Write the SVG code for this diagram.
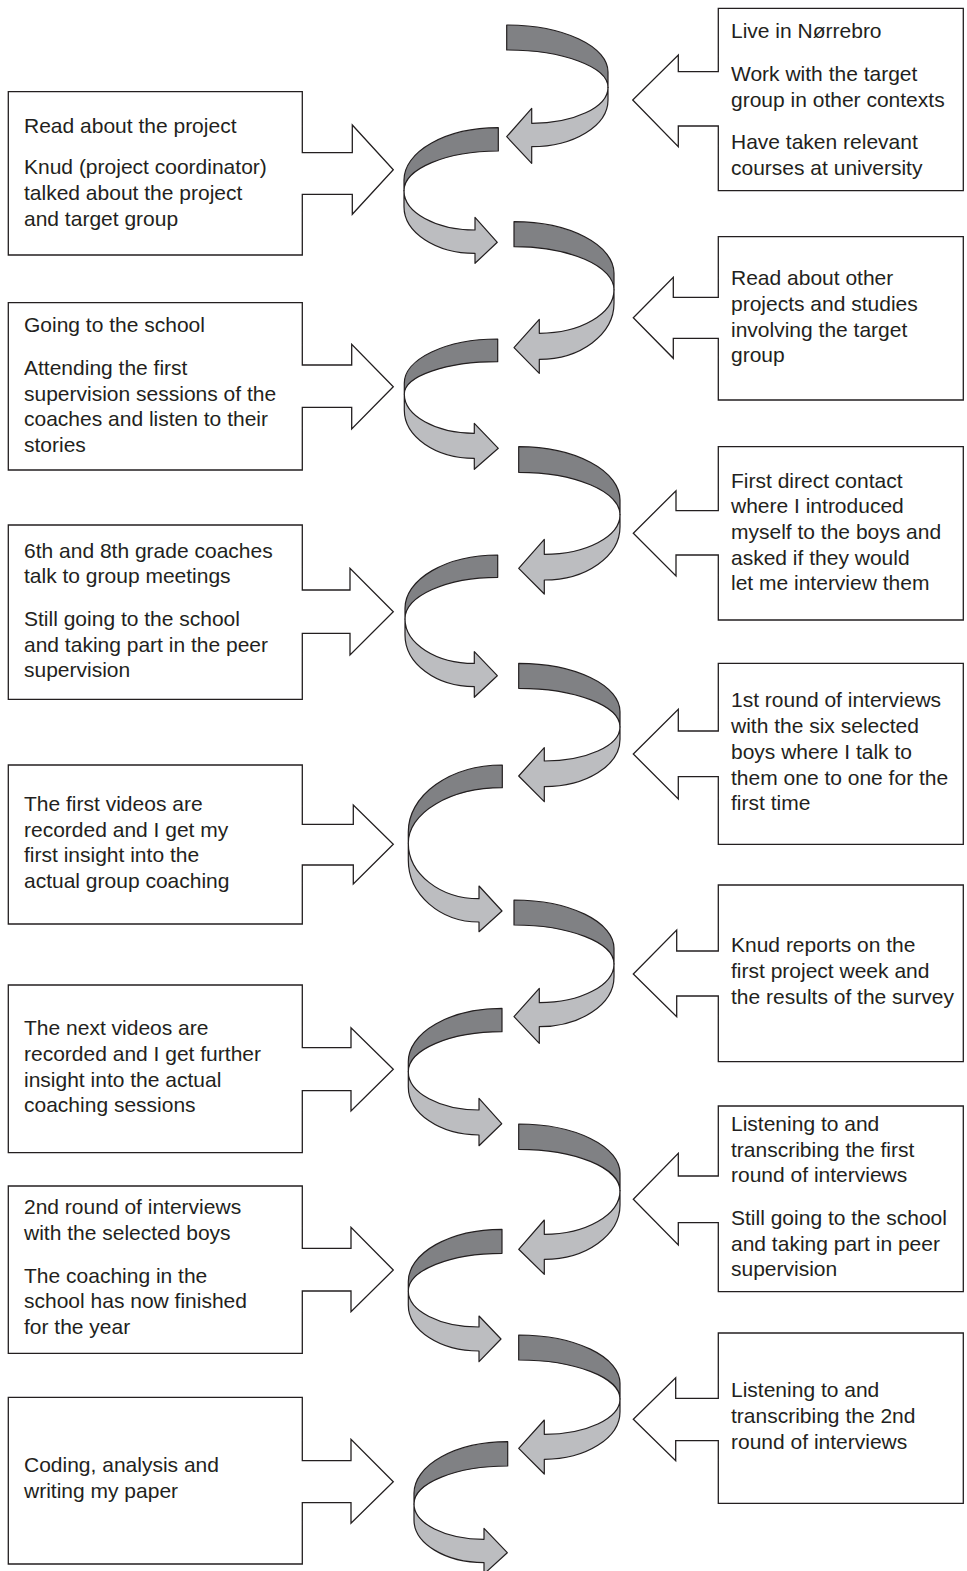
<svg xmlns="http://www.w3.org/2000/svg" width="967" height="1571" viewBox="0 0 967 1571">
<style>
.box{fill:#fff;stroke:#231f20;stroke-width:1.3;stroke-linejoin:miter}
.dk{fill:#808184;stroke:#231f20;stroke-width:1.2;stroke-linejoin:round}
.lt{fill:#bcbdc0;stroke:#231f20;stroke-width:1.2;stroke-linejoin:round}
text{font-family:"Liberation Sans",Arial,Helvetica,sans-serif;font-size:21px;fill:#231f20}
</style>
<rect width="967" height="1571" fill="#fff"/>
<g id="spiral">
<g id="r1"><path class="dk" d="M506.7,25 A101.3,47 0 0 1 608,72 L608,87.4 A101.3,37.4 0 0 0 506.7,50 Z"/><path class="lt" d="M608,87.4 A76.3,35.9 0 0 1 531.7,123.3 L531.7,108.3 L506.7,136.7 L531.7,163.3 L531.7,146.7 A76.3,46.7 0 0 0 608,100 Z"/></g>
<g id="l1"><path class="dk" d="M498.3,127.7 A94.3,52.3 0 0 0 404,180 L404,190.7 A94.3,39.7 0 0 1 498.3,151 Z"/><path class="lt" d="M404,190.7 A71,39.3 0 0 0 475,230 L475,217.3 L497.3,242.3 L475,263.3 L475,253.3 A71,46.6 0 0 1 404,206.7 Z"/></g>
<g id="r2"><path class="dk" d="M514,221.7 A100,51.6 0 0 1 614,273.3 L614,289.8 A100,43.1 0 0 0 514,246.7 Z"/><path class="lt" d="M614,289.8 A74.7,43.5 0 0 1 539.3,333.3 L539.3,319.3 L514,347.7 L539.3,373.3 L539.3,359.3 A74.7,56 0 0 0 614,303.3 Z"/></g>
<g id="l2"><path class="dk" d="M497.7,339 A93.4,44.3 0 0 0 404.3,383.3 L404.3,394 A93.4,32.3 0 0 1 497.7,361.7 Z"/><path class="lt" d="M404.3,394 A70,39.3 0 0 0 474.3,433.3 L474.3,423.3 L498.3,448.3 L474.3,469.3 L474.3,458.3 A70,48.3 0 0 1 404.3,410 Z"/></g>
<g id="r3"><path class="dk" d="M518.7,446.7 A101.3,53.3 0 0 1 620,500 L620,514.7 A101.3,42.4 0 0 0 518.7,472.3 Z"/><path class="lt" d="M620,514.7 A75.7,39.6 0 0 1 544.3,554.3 L544.3,539.3 L518.7,568.3 L544.3,594 L544.3,580 A75.7,53.3 0 0 0 620,526.7 Z"/></g>
<g id="l3"><path class="dk" d="M497.7,555 A92.7,53.3 0 0 0 405,608.3 L405,619 A92.7,41.7 0 0 1 497.7,577.3 Z"/><path class="lt" d="M405,619 A69.3,44.4 0 0 0 474.3,663.4 L474.3,651.7 L497.3,675.7 L474.3,697.3 L474.3,686.7 A69.3,51.7 0 0 1 405,635 Z"/></g>
<g id="r4"><path class="dk" d="M518.7,663.3 A101.3,48.4 0 0 1 620,711.7 L620,726.9 A101.3,38.6 0 0 0 518.7,688.3 Z"/><path class="lt" d="M620,726.9 A75.7,34.1 0 0 1 544.3,761 L544.3,747.7 L518.7,776 L544.3,801.7 L544.3,786.7 A75.7,47.4 0 0 0 620,739.3 Z"/></g>
<g id="l4"><path class="dk" d="M502.3,765 A94,66.7 0 0 0 408.3,831.7 L408.3,843 A94,55.3 0 0 1 502.3,787.7 Z"/><path class="lt" d="M408.3,843 A70.7,55.7 0 0 0 479,898.7 L479,886 L502,911 L479,931.7 L479,922 A70.7,62 0 0 1 408.3,860 Z"/></g>
<g id="r5"><path class="dk" d="M514,900 A100,48.3 0 0 1 614,948.3 L614,963.9 A100,38.9 0 0 0 514,925 Z"/><path class="lt" d="M614,963.9 A74.7,38.8 0 0 1 539.3,1002.7 L539.3,988.3 L514,1016.7 L539.3,1043.3 L539.3,1026.7 A74.7,50 0 0 0 614,976.7 Z"/></g>
<g id="l5"><path class="dk" d="M502,1008.3 A93.7,53.4 0 0 0 408.3,1061.7 L408.3,1071.7 A93.7,40 0 0 1 502,1031.7 Z"/><path class="lt" d="M408.3,1071.7 A70.7,38.3 0 0 0 479,1110 L479,1098.3 L501.7,1123.7 L479,1145.7 L479,1135 A70.7,48.3 0 0 1 408.3,1086.7 Z"/></g>
<g id="r6"><path class="dk" d="M518.7,1124 A101.3,49.3 0 0 1 620,1173.3 L620,1190.7 A101.3,41.4 0 0 0 518.7,1149.3 Z"/><path class="lt" d="M620,1190.7 A75.7,43.6 0 0 1 544.3,1234.3 L544.3,1220 L518.7,1249.3 L544.3,1274.3 L544.3,1259.3 A75.7,54.3 0 0 0 620,1205 Z"/></g>
<g id="l6"><path class="dk" d="M502,1229.3 A93.7,52.4 0 0 0 408.3,1281.7 L408.3,1291 A93.7,37.7 0 0 1 502,1253.3 Z"/><path class="lt" d="M408.3,1291 A70.7,36 0 0 0 479,1327 L479,1316 L501,1339 L479,1361.7 L479,1351 A70.7,46 0 0 1 408.3,1305 Z"/></g>
<g id="r7"><path class="dk" d="M518.7,1335 A101.3,48.3 0 0 1 620,1383.3 L620,1398.9 A101.3,38.9 0 0 0 518.7,1360 Z"/><path class="lt" d="M620,1398.9 A75.7,35.4 0 0 1 544.3,1434.3 L544.3,1420 L518.7,1448.3 L544.3,1474 L544.3,1459.3 A75.7,47.6 0 0 0 620,1411.7 Z"/></g>
<g id="l7"><path class="dk" d="M507.7,1441.7 A93.7,51.6 0 0 0 414,1493.3 L414,1504 A93.7,38 0 0 1 507.7,1466 Z"/><path class="lt" d="M414,1504 A70,35.3 0 0 0 484,1539.3 L484,1528.3 L507.3,1552.7 L484,1574 L484,1562.6 A70,42.6 0 0 1 414,1520 Z"/></g>
</g>
<g id="lb1"><path class="box" d="M8.3,91.7 H302.3 V152.7 H352.3 V125 L393.3,169.7 L352.3,214.3 V194.3 H302.3 V255 H8.3 Z"/>
<text x="24"><tspan x="24" y="133.3">Read about the project</tspan><tspan x="24" y="174.3">Knud (project coordinator)</tspan><tspan x="24" y="200">talked about the project</tspan><tspan x="24" y="225.7">and target group</tspan></text></g>
<g id="lb2"><path class="box" d="M8.3,302.7 H302.3 V365 H351.7 V344.3 L393.3,386.7 L351.7,429 V407.3 H302.3 V470 H8.3 Z"/>
<text><tspan x="24" y="332">Going to the school</tspan><tspan x="24" y="375">Attending the first</tspan><tspan x="24" y="401">supervision sessions of the</tspan><tspan x="24" y="426">coaches and listen to their</tspan><tspan x="24" y="452">stories</tspan></text></g>
<g id="lb3"><path class="box" d="M8.3,525 H302.3 V590 H350 V568.3 L393.3,611.7 L350,655 V633.3 H302.3 V699.3 H8.3 Z"/>
<text><tspan x="24" y="558">6th and 8th grade coaches</tspan><tspan x="24" y="583">talk to group meetings</tspan><tspan x="24" y="626">Still going to the school</tspan><tspan x="24" y="652">and taking part in the peer</tspan><tspan x="24" y="677">supervision</tspan></text></g>
<g id="lb4"><path class="box" d="M8.3,765 H302.3 V824.3 H353.3 V805 L393.3,844.3 L353.3,884 V865 H302.3 V924 H8.3 Z"/>
<text><tspan x="24" y="811">The first videos are</tspan><tspan x="24" y="837">recorded and I get my</tspan><tspan x="24" y="862">first insight into the</tspan><tspan x="24" y="888">actual group coaching</tspan></text></g>
<g id="lb5"><path class="box" d="M8.3,985 H302.3 V1047.7 H351 V1027.7 L393.3,1069.3 L351,1111 V1090.7 H302.3 V1152.7 H8.3 Z"/>
<text><tspan x="24" y="1035">The next videos are</tspan><tspan x="24" y="1061">recorded and I get further</tspan><tspan x="24" y="1087">insight into the actual</tspan><tspan x="24" y="1112">coaching sessions</tspan></text></g>
<g id="lb6"><path class="box" d="M8.3,1186 H302.3 V1248.3 H351 V1227.3 L393.3,1270 L351,1311.7 V1291 H302.3 V1353.3 H8.3 Z"/>
<text><tspan x="24" y="1214">2nd round of interviews</tspan><tspan x="24" y="1240">with the selected boys</tspan><tspan x="24" y="1283">The coaching in the</tspan><tspan x="24" y="1308">school has now finished</tspan><tspan x="24" y="1334">for the year</tspan></text></g>
<g id="lb7"><path class="box" d="M8.3,1397.3 H302.3 V1460.7 H351 V1439.3 L393.3,1481.7 L351,1523.3 V1502.7 H302.3 V1564 H8.3 Z"/>
<text><tspan x="24" y="1472">Coding, analysis and</tspan><tspan x="24" y="1498">writing my paper</tspan></text></g>
<g id="rb1"><path class="box" d="M718.3,8.3 H963.3 V190.7 H718.3 V126 H678.3 V146.7 L632.7,100 L678.3,55 V71.7 H718.3 Z"/>
<text><tspan x="731" y="38">Live in Nørrebro</tspan><tspan x="731" y="81">Work with the target</tspan><tspan x="731" y="107">group in other contexts</tspan><tspan x="731" y="149">Have  taken relevant</tspan><tspan x="731" y="175">courses at university</tspan></text></g>
<g id="rb2"><path class="box" d="M718.3,236.7 H963.3 V400 H718.3 V338.3 H673.3 V358.3 L633.3,317.7 L673.3,277.3 V297.3 H718.3 Z"/>
<text><tspan x="731" y="285">Read about other</tspan><tspan x="731" y="311">projects and studies</tspan><tspan x="731" y="337">involving the target</tspan><tspan x="731" y="362">group</tspan></text></g>
<g id="rb3"><path class="box" d="M718.3,446.7 H963.3 V620 H718.3 V555 H676 V576 L633.3,533.3 L676,490.7 V510.7 H718.3 Z"/>
<text><tspan x="731" y="488">First direct contact</tspan><tspan x="731" y="513">where I introduced</tspan><tspan x="731" y="539">myself to the boys and</tspan><tspan x="731" y="565">asked if they would</tspan><tspan x="731" y="590">let me interview them</tspan></text></g>
<g id="rb4"><path class="box" d="M718.3,663.3 H963.3 V844.3 H718.3 V776.7 H678.3 V799 L633.3,754 L678.3,709.3 V731 H718.3 Z"/>
<text><tspan x="731" y="707">1st round of interviews</tspan><tspan x="731" y="733">with the six selected</tspan><tspan x="731" y="759">boys where I talk to</tspan><tspan x="731" y="785">them one to one for the</tspan><tspan x="731" y="810">first time</tspan></text></g>
<g id="rb5"><path class="box" d="M718.3,885 H963.3 V1061.7 H718.3 V996 H676.7 V1016.7 L633.3,974 L676.7,930 V951 H718.3 Z"/>
<text><tspan x="731" y="952">Knud reports on the</tspan><tspan x="731" y="978">first project week and</tspan><tspan x="731" y="1004">the results of the survey</tspan></text></g>
<g id="rb6"><path class="box" d="M718.3,1106 H963.3 V1291.7 H718.3 V1222.7 H678.3 V1245 L633.3,1199.3 L678.3,1153.3 V1176 H718.3 Z"/>
<text><tspan x="731" y="1131">Listening to and</tspan><tspan x="731" y="1157">transcribing the first</tspan><tspan x="731" y="1182">round of interviews</tspan><tspan x="731" y="1225">Still going to the school</tspan><tspan x="731" y="1251">and taking part in peer</tspan><tspan x="731" y="1276">supervision</tspan></text></g>
<g id="rb7"><path class="box" d="M718.3,1333 H963.3 V1503.3 H718.3 V1440.7 H675.7 V1460.7 L633.3,1419.3 L675.7,1377.7 V1398.3 H718.3 Z"/>
<text><tspan x="731" y="1397">Listening to and</tspan><tspan x="731" y="1423">transcribing the 2nd</tspan><tspan x="731" y="1449">round of interviews</tspan></text></g>
</svg>
